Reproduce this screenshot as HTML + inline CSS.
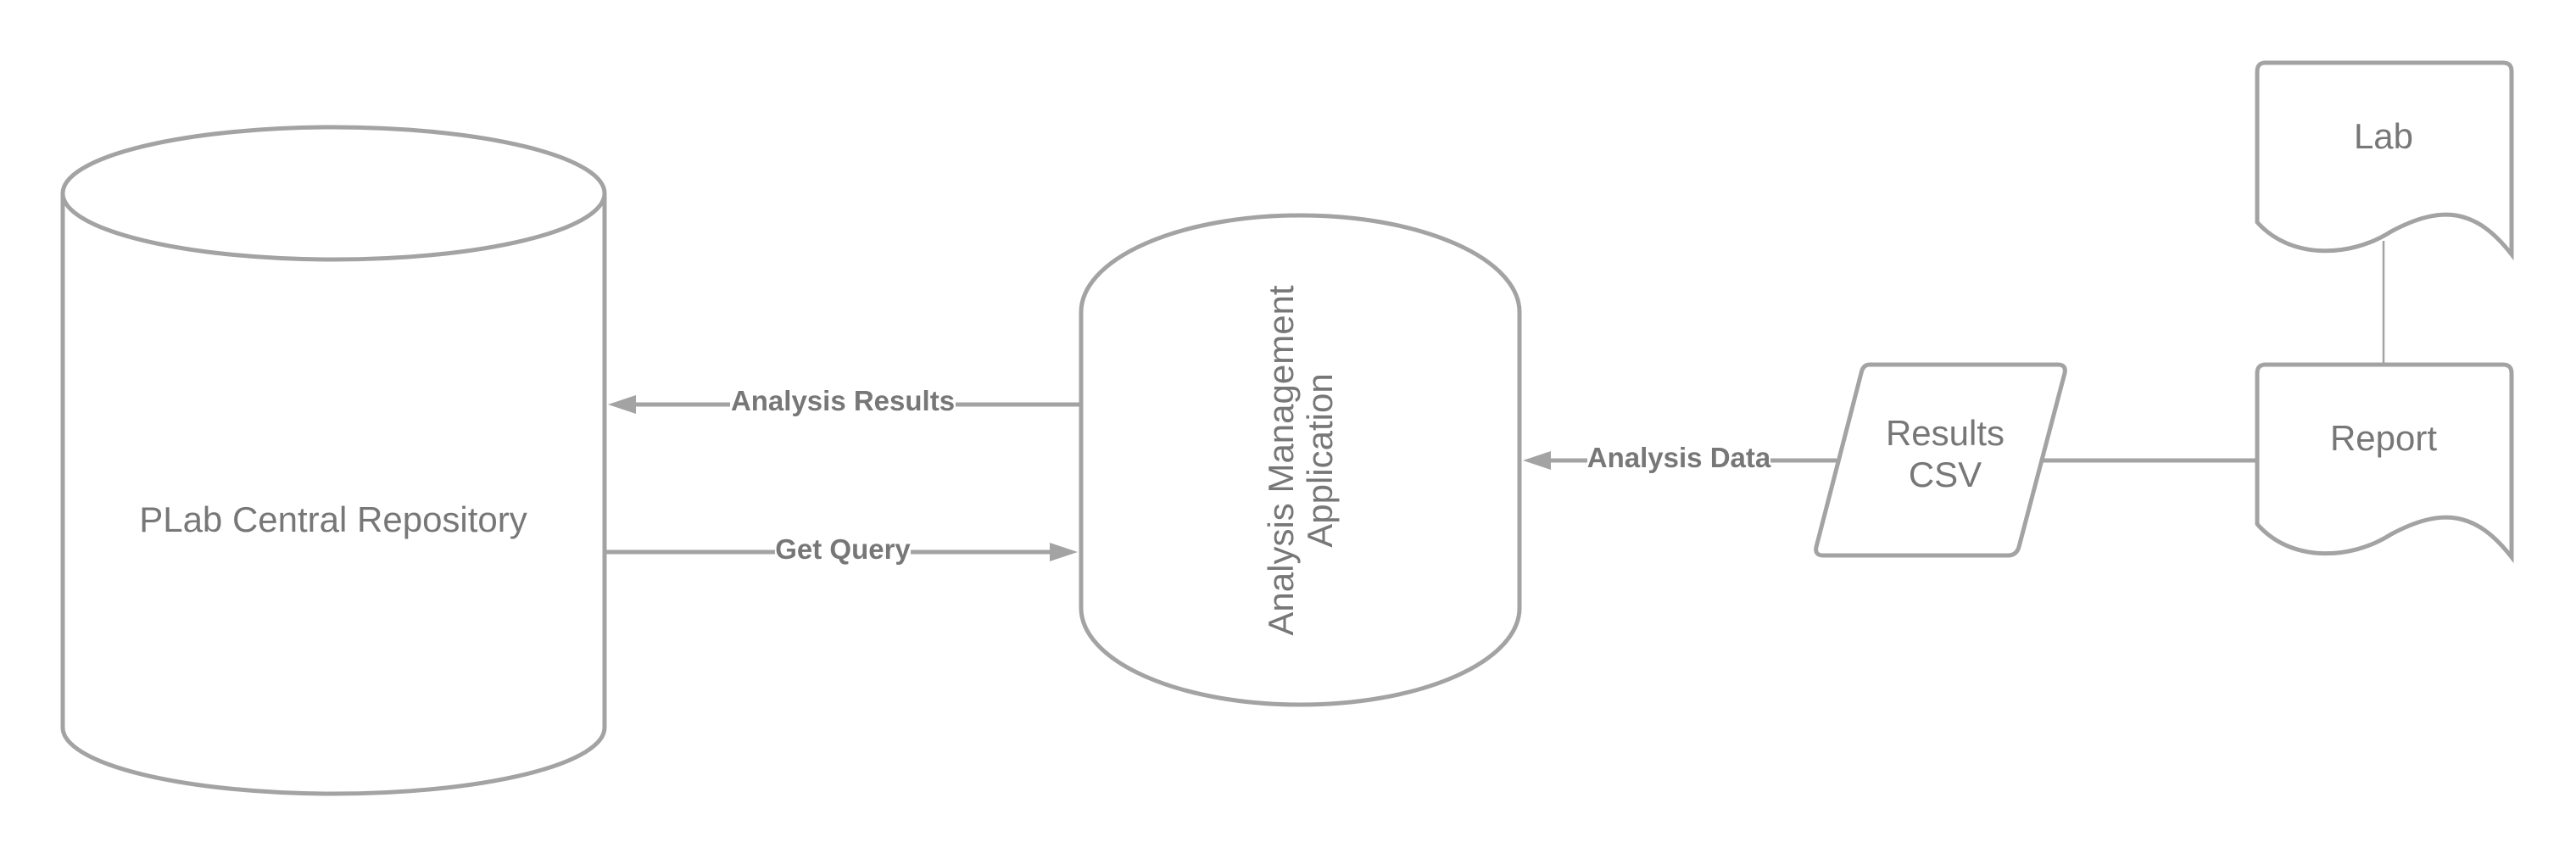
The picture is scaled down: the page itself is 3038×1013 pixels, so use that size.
<!DOCTYPE html>
<html><head><meta charset="utf-8"><style>
html,body{margin:0;padding:0;background:#fff;}
svg{display:block;}
text{font-family:"Liberation Sans",sans-serif;fill:#777;}
</style></head><body>
<svg width="3038" height="1013" viewBox="0 0 3038 1013" xmlns="http://www.w3.org/2000/svg">
<g fill="none" stroke="#a3a3a3" stroke-width="5">
<path d="M74,228 L74,858 A319.5,78 0 0 0 713,858 L713,228" fill="#fff"/>
<ellipse cx="393.5" cy="228" rx="319.5" ry="78" fill="#fff"/>
<rect x="1275" y="254" width="517" height="577" rx="258" ry="114" fill="#fff"/>
<line x1="1273" y1="477" x2="745" y2="477"/>
<line x1="713" y1="651" x2="1240" y2="651"/>
<line x1="2166" y1="543" x2="1826" y2="543"/>
<line x1="2408" y1="543" x2="2662" y2="543"/>
<path d="M2205,430 L2427,430 Q2437,430 2435,440 L2381,645 Q2378,655 2368,655 L2150,655 Q2140,655 2142,645 L2195,440 Q2197,430 2205,430 Z" fill="#fff"/>
<path d="M2672,430 L2952,430 Q2962,430 2962,440 L2962,657 C2920,603 2880,598 2820,630 C2770,662 2700,662 2662,618 L2662,440 Q2662,430 2672,430 Z" fill="#fff"/>
<path d="M2672,74 L2952,74 Q2962,74 2962,84 L2962,300 C2920,246 2880,241 2820,273 C2770,305 2700,305 2662,262 L2662,84 Q2662,74 2672,74 Z" fill="#fff"/>
</g>
<line x1="2811" y1="284" x2="2811" y2="430" stroke="#a3a3a3" stroke-width="2.5"/>
<g fill="#a3a3a3">
<polygon points="717,477 750,466 750,488"/>
<polygon points="1271,651 1238,640 1238,662"/>
<polygon points="1796,543 1829,532 1829,554"/>
</g>
<g font-weight="bold" font-size="33" text-anchor="middle">
<rect x="861" y="458" width="266" height="38" fill="#fff"/>
<text x="994" y="484">Analysis Results</text>
<rect x="914" y="632" width="160" height="38" fill="#fff"/>
<text x="994" y="659">Get Query</text>
<rect x="1872" y="524" width="216" height="38" fill="#fff"/>
<text x="1980" y="551">Analysis Data</text>
</g>
<g font-size="42" text-anchor="middle">
<text x="393" y="627">PLab Central Repository</text>
<text transform="translate(1533,543) rotate(-90)" x="0" y="-8">Analysis Management</text>
<text transform="translate(1533,543) rotate(-90)" x="0" y="38">Application</text>
<text x="2294" y="525">Results</text>
<text x="2294" y="574">CSV</text>
<text x="2811" y="531">Report</text>
<text x="2811" y="175">Lab</text>
</g>
</svg>
</body></html>
